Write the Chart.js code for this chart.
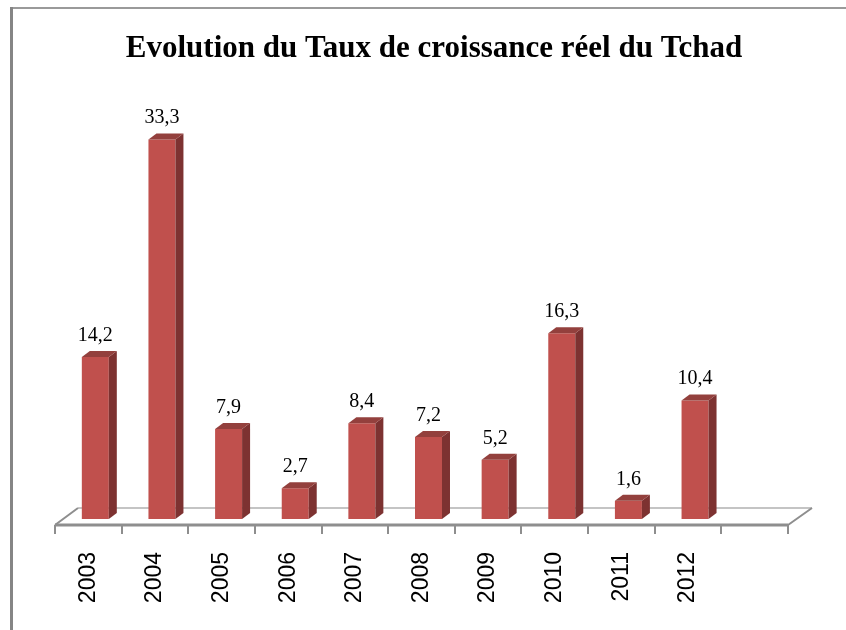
<!DOCTYPE html>
<html>
<head>
<meta charset="utf-8">
<script src="https://cdn.jsdelivr.net/npm/chart.js@4/dist/chart.umd.min.js"></script>
<style>
  html, body { margin: 0; padding: 0; background: #fff; }
  #wrap { width: 846px; height: 630px; }
</style>
</head>
<body>
<div id="wrap"><canvas id="chart"></canvas></div>
<script>
const years = ['2003', '2004', '2005', '2006', '2007', '2008', '2009', '2010', '2011', '2012', ''];
const growth = [14.2, 33.3, 7.9, 2.7, 8.4, 7.2, 5.2, 16.3, 1.6, 10.4, null];
const titleText = 'Evolution du Taux de croissance réel du Tchad';

const frontColor = '#c0504d';
const sideColor = '#7d3231';
const topColor = '#93403d';
const depthX = 8, depthY = 6, shiftX = 7;

// cadre + titre
const framePlugin = {
    id: 'frame',
    beforeDraw(chart) {
        const { ctx, width, height } = chart;
        ctx.save();
        ctx.fillStyle = '#fff';
        ctx.fillRect(0, 0, width, height);
        ctx.strokeStyle = '#9a9a9a';
        ctx.lineWidth = 2;
        ctx.beginPath();
        ctx.moveTo(10, 8);
        ctx.lineTo(width, 8);
        ctx.stroke();
        ctx.strokeStyle = '#858585';
        ctx.lineWidth = 3;
        ctx.beginPath();
        ctx.moveTo(11.5, 7);
        ctx.lineTo(11.5, height);
        ctx.stroke();

        ctx.fillStyle = '#000';
        ctx.font = 'bold 31px "Liberation Serif", "Times New Roman", serif';
        ctx.textAlign = 'center';
        ctx.textBaseline = 'alphabetic';
        ctx.fillText(titleText, 434, 57);
        ctx.restore();
    }
};

// plancher 3D et graduations
const floorPlugin = {
    id: 'floor',
    beforeDatasetsDraw(chart) {
        const { ctx, chartArea, scales } = chart;
        const xs = scales.x;
        const slot = (chartArea.right - chartArea.left) / years.length;
        const front = chartArea.bottom + 6, back = chartArea.bottom - 11;
        ctx.save();
        ctx.strokeStyle = '#c4c4c4';
        ctx.lineWidth = 2;
        ctx.beginPath();
        ctx.moveTo(chartArea.left + 23, back);
        ctx.lineTo(chartArea.right + 24, back);
        ctx.stroke();
        ctx.strokeStyle = '#8e8e8e';
        ctx.lineWidth = 2;
        ctx.beginPath();
        ctx.moveTo(chartArea.left + 23, back);
        ctx.lineTo(chartArea.left, front);
        ctx.moveTo(chartArea.right + 24, back);
        ctx.lineTo(chartArea.right, front);
        ctx.stroke();
        ctx.lineWidth = 3;
        ctx.beginPath();
        ctx.moveTo(chartArea.left, front);
        ctx.lineTo(chartArea.right, front);
        ctx.stroke();
        ctx.lineWidth = 2;
        ctx.beginPath();
        for (let i = 0; i <= years.length; i++) {
            const x = Math.round(xs.getPixelForValue(i) - slot / 2);
            ctx.moveTo(x, front);
            ctx.lineTo(x, front + 9);
        }
        ctx.stroke();
        ctx.restore();

        ctx.save();
        ctx.translate(shiftX, 0);
    },
    afterDatasetsDraw(chart) {
        const { ctx } = chart;
        const meta = chart.getDatasetMeta(0);
        meta.data.forEach((bar, i) => {
            const v = growth[i];
            if (v == null) return;
            const { x, y, base, width } = bar.getProps(['x', 'y', 'base', 'width'], true);
            const l = x - width / 2, r = x + width / 2;
            ctx.fillStyle = sideColor;
            ctx.beginPath();
            ctx.moveTo(r, y);
            ctx.lineTo(r + depthX, y - depthY);
            ctx.lineTo(r + depthX, base - depthY);
            ctx.lineTo(r, base);
            ctx.closePath();
            ctx.fill();
            ctx.fillStyle = topColor;
            ctx.beginPath();
            ctx.moveTo(l, y);
            ctx.lineTo(l + depthX, y - depthY);
            ctx.lineTo(r + depthX, y - depthY);
            ctx.lineTo(r, y);
            ctx.closePath();
            ctx.fill();

            ctx.fillStyle = '#000';
            ctx.font = '20px "Liberation Serif", "Times New Roman", serif';
            ctx.textAlign = 'center';
            ctx.textBaseline = 'alphabetic';
            ctx.fillText(v.toFixed(1).replace('.', ','), x, y - 16);
        });
        ctx.restore();
    }
};

new Chart(document.getElementById('chart'), {
    type: 'bar',
    data: {
        labels: years,
        datasets: [{
            data: growth,
            backgroundColor: frontColor,
            borderWidth: 0,
            barPercentage: 0.405,
            categoryPercentage: 1
        }]
    },
    options: {
        responsive: true,
        maintainAspectRatio: false,
        animation: false,
        layout: { padding: { top: 63, left: 55, right: 58, bottom: 25 } },
        plugins: {
            legend: { display: false },
            title: { display: false },
            tooltip: { enabled: false }
        },
        scales: {
            x: {
                offset: true,
                grid: { display: false, drawTicks: false },
                border: { display: false },
                afterFit(scale) { scale.height = 86; },
                ticks: {
                    minRotation: 90,
                    maxRotation: 90,
                    padding: 33,
                    color: '#000',
                    autoSkip: false,
                    font: { family: '"Liberation Sans", Arial, sans-serif', size: 23 }
                }
            },
            y: {
                display: false,
                min: 0,
                max: 40
            }
        }
    },
    plugins: [framePlugin, floorPlugin]
});
</script>
</body>
</html>
